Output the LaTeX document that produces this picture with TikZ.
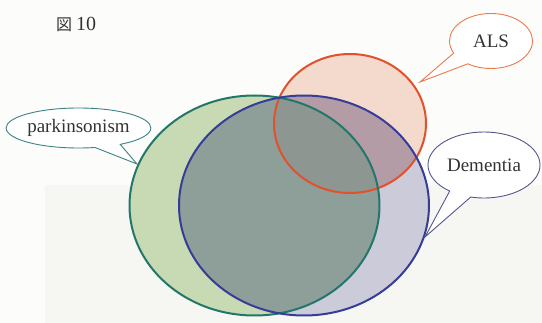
\documentclass[tikz,border=0pt]{standalone}
\usepackage{fontspec}
\setmainfont{Liberation Serif}
\newfontfamily\cjk{Noto Sans CJK JP}
\usetikzlibrary{shapes.geometric,shapes.callouts}
\definecolor{bgc}{HTML}{FCFCFA}
\definecolor{bgshade}{HTML}{F6F6F3}
\definecolor{Gfill}{HTML}{C7DAB3}
\definecolor{Bfill}{HTML}{CBCBDA}
\definecolor{Rfill}{HTML}{F4DACC}
\definecolor{GBfill}{HTML}{8E9E98}
\definecolor{RBfill}{HTML}{B49CA6}
\definecolor{RGBfill}{HTML}{8E9692}
\definecolor{Gline}{HTML}{23776A}
\definecolor{Bline}{HTML}{363C98}
\definecolor{Rline}{HTML}{E2502C}
\definecolor{ALSline}{HTML}{EA7A4E}
\definecolor{Pline}{HTML}{3C8484}
\definecolor{Dline}{HTML}{545890}
\definecolor{txt}{HTML}{333333}
\tikzset{
  venn/.style={ellipse, line width=2pt, inner sep=0pt, outer sep=0pt},
  bubble/.style={ellipse callout, fill=white, line width=0.9pt, text=txt,
    inner sep=0pt, font=\fontsize{19}{21}\selectfont},
}
\begin{document}
\begin{tikzpicture}[x=1pt,y=-1pt]
\useasboundingbox (0,0) rectangle (542,323);
\fill[bgc] (0,0) rectangle (542,323);
\fill[bgshade] (45,185) rectangle (542,323);

\coordinate (gc) at (254.5,205.5);
\coordinate (bc) at (304,205.5);
\coordinate (rc) at (350,123.5);

% region fills
\fill[Gfill] (gc) ellipse[x radius=125, y radius=110];
\fill[Bfill] (bc) ellipse[x radius=125, y radius=110];
\fill[Rfill] (rc) ellipse[x radius=76, y radius=69.5];
\begin{scope}
  \clip (gc) ellipse[x radius=125, y radius=110];
  \fill[GBfill] (bc) ellipse[x radius=125, y radius=110];
\end{scope}
\begin{scope}
  \clip (rc) ellipse[x radius=76, y radius=69.5];
  \fill[RBfill] (bc) ellipse[x radius=125, y radius=110];
  \clip (bc) ellipse[x radius=125, y radius=110];
  \fill[RGBfill] (gc) ellipse[x radius=125, y radius=110];
\end{scope}

% outlines
\node[venn, draw=Rline, minimum width=152, minimum height=139] (als) at (rc) {};
\node[venn, draw=Gline, minimum width=250, minimum height=220] (park) at (gc) {};
\node[venn, draw=Bline, minimum width=250, minimum height=220] (dem) at (bc) {};

% callouts
\coordinate (alsTip) at (420,82);
\coordinate (parkTip) at (137,164);
\coordinate (demTip) at (425,237);
\node[bubble, draw=ALSline, minimum width=83, minimum height=55,
  callout absolute pointer={(alsTip)}, callout pointer arc=30] (alsLabel) at (491,41) {ALS};
\node[bubble, draw=Pline, minimum width=143, minimum height=40,
  callout absolute pointer={(parkTip)}, callout pointer arc=22] (parkLabel) at (78.5,128) {parkinsonism};
\node[bubble, draw=Dline, minimum width=112, minimum height=66,
  callout absolute pointer={(demTip)}, callout pointer arc=24] (demLabel) at (484,165) {Dementia};

% title
\node[anchor=west, text=txt, inner sep=0pt] (title) at (56,24)
  {{\cjk\fontsize{16}{18}\selectfont 図}\hspace{4pt}{\fontsize{20}{22}\selectfont 10}};
\end{tikzpicture}
\end{document}
